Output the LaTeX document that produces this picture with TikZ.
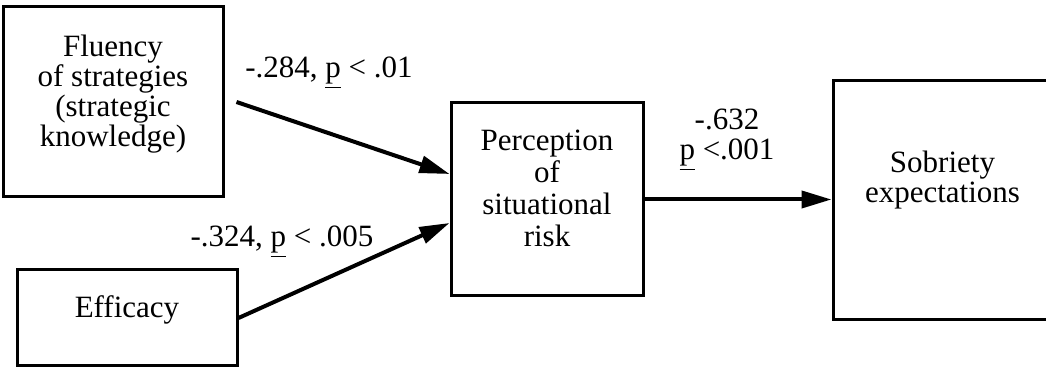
\documentclass[tikz,border=0pt]{standalone}
\usepackage{fontspec}
\setmainfont{Liberation Serif}
\usetikzlibrary{arrows.meta,positioning,calc}

\begin{document}
\begin{tikzpicture}[x=0.5pt, y=-0.5pt, >={Triangle[length=15pt,width=8.5pt]},
  font=\fontsize{15.5}{15}\selectfont]
\tikzstyle{box}=[draw, line width=1.5pt, inner sep=0pt, align=center, anchor=base]
\tikzstyle{lbl}=[inner sep=0pt, anchor=base]
\tikzstyle{link}=[->, line width=2pt]
\useasboundingbox (0,0) rectangle (1046,368);
\node[box, minimum width=110pt, text height=70pt, text depth=25pt] (fluency) at (113,147) {Fluency\\of strategies\\(strategic\\knowledge)};
\node[box, minimum width=110pt, text height=24pt, text depth=24pt] (efficacy) at (127,318) {Efficacy};
\node[box, minimum width=96pt, text height=72pt, text depth=24.5pt, font=\fontsize{15.5}{16}\selectfont] (perception) at (547,247) {Perception\\of\\situational\\risk};
\node[box, minimum width=109.5pt, text height=61pt, text depth=58.5pt] (sobriety) at (942.5,203) {Sobriety\\expectations};
\node[lbl] (w1) at (329,78) {-.284, \underline{p} < .01};
\node[lbl] (w2) at (282,247) {-.324, \underline{p} < .005};
\node[lbl, align=center] (w3) at (727,160) {-.632\\\underline{p} <.001};
\draw[link] ([xshift=6pt]fluency.east) -- ([yshift=12.75pt]perception.west);
\draw[link] (efficacy.east) -- ([yshift=-11.75pt]perception.west);
\draw[link] (perception.east) -- (perception.east -| sobriety.west);
\end{tikzpicture}
\end{document}
